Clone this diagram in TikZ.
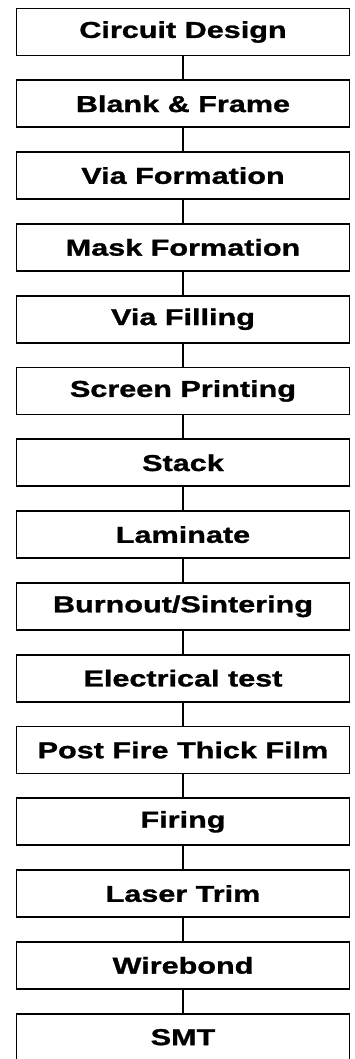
\documentclass[tikz,border=0pt]{standalone}
\usepackage{fontspec}
\setmainfont{Liberation Sans}[FakeStretch=1.33, BoldFeatures={FakeBold=1.2}]
\usetikzlibrary{positioning}

\begin{document}
\begin{tikzpicture}[x=1pt, y=1pt,
  stepbox/.style={draw, line width=1.8pt, fill=white, minimum width=333pt, minimum height=47pt,
    inner sep=0pt, font=\fontsize{23}{25}\selectfont\bfseries},
  link/.style={line width=1.4pt}
]
  \useasboundingbox (0,0) rectangle (355,-1059);
  \foreach \lbl [count=\i from 0] in {Circuit Design, Blank \& Frame, Via Formation,
      Mask Formation, Via Filling, Screen Printing, Stack, Laminate,
      Burnout/Sintering, Electrical test, Post Fire Thick Film, Firing,
      Laser Trim, Wirebond, SMT} {
    \node[stepbox] (s\i) at (183, -32-71.8*\i) {\lbl};
  }

  \foreach \i [evaluate=\i as \j using int(\i+1)] in {0,...,13} {
    \draw[link] (s\i) -- (s\j);
  }
\end{tikzpicture}
\end{document}
